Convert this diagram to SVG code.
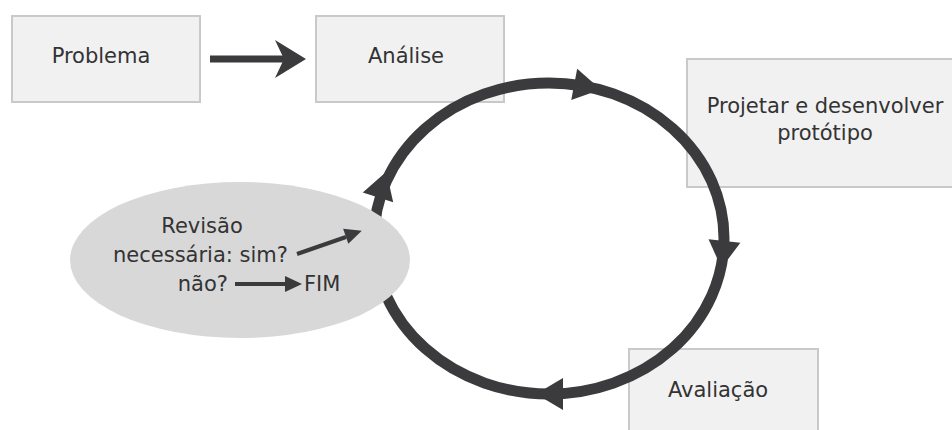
<svg xmlns="http://www.w3.org/2000/svg" width="952" height="430" viewBox="0 0 952 430">
<style>
.box{fill:#f1f1f2;stroke:#c9c9c9;stroke-width:2}
.t{font-family:"DejaVu Sans",Verdana,sans-serif;font-size:21px;fill:#333}
.c{text-anchor:middle}
.dk{fill:#3b3b3d}
</style>
<defs>
<polygon id="head" points="14,0 -13,-16 -13,16"/>
<polygon id="sh" points="4,0 -13,-8 -13,8"/>
</defs>
<rect width="952" height="430" fill="#fff"/>
<g id="problema"><rect class="box" x="12" y="16" width="188" height="86"/><text class="t c" x="101" y="63">Problema</text></g>
<g id="analise"><rect class="box" x="316" y="16" width="188" height="86"/><text class="t c" x="406" y="63">Análise</text></g>
<g id="projetar"><rect class="box" x="687" y="59" width="275" height="128"/><text class="t c" x="825" y="113">Projetar e desenvolver</text><text class="t c" x="825" y="140">protótipo</text></g>
<g id="avaliacao"><rect class="box" x="629" y="349" width="189" height="90"/><text class="t c" x="718" y="397">Avaliação</text></g>
<g id="connectors">
<line x1="210" y1="59" x2="284" y2="59" stroke="#3b3b3d" stroke-width="7"/>
<polygon class="dk" points="306,59 275,40 284,59 275,78"/>
<ellipse cx="549" cy="238.5" rx="175" ry="155.5" fill="none" stroke="#3b3b3d" stroke-width="11"/>
<use href="#head" class="dk" transform="translate(587,86.8) rotate(10.7)"/>
<use href="#head" class="dk" transform="translate(723,254) rotate(96.4)"/>
<use href="#head" class="dk" transform="translate(550,394) rotate(180)"/>
<use href="#head" class="dk" transform="translate(382,185) rotate(-72)"/>
</g>
<g id="revisao">
<ellipse cx="240" cy="260" rx="170" ry="78" fill="#d8d8d9"/>
<text class="t c" x="202" y="233">Revisão</text>
<text class="t" x="113" y="262">necessária: sim?</text>
<text class="t" x="228" y="291" text-anchor="end">não?</text>
<text class="t" x="304" y="291">FIM</text>
<line x1="297" y1="254" x2="346" y2="237" stroke="#3b3b3d" stroke-width="4"/>
<use href="#sh" class="dk" transform="translate(358,232) rotate(-19)"/>
<line x1="235" y1="284" x2="288" y2="284" stroke="#3b3b3d" stroke-width="4"/>
<use href="#sh" class="dk" transform="translate(298,284)"/>
</g>
</svg>
